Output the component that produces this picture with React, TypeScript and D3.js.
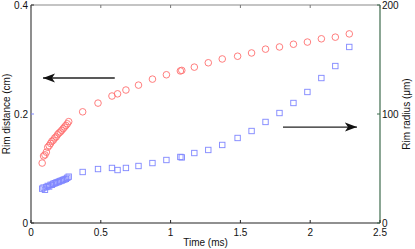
import React, { useEffect, useRef } from 'react';
import * as d3 from 'd3';

// time (ms) of each frame
const times = [
  0.08, 0.09, 0.1, 0.11, 0.12, 0.13, 0.14, 0.15, 0.16, 0.17, 0.18, 0.19, 0.2, 0.21, 0.22, 0.23, 0.24, 0.25, 0.26,
  0.27, 0.37, 0.48, 0.58, 0.62, 0.68, 0.77, 0.87, 0.97, 1.07, 1.08, 1.17, 1.27, 1.37, 1.48, 1.58, 1.68, 1.78, 1.88,
  1.98, 2.08, 2.18, 2.28,
];

// rim distance (cm), left axis
const rimDistance = [
  0.11, 0.123, 0.125, 0.13, 0.139, 0.142, 0.146, 0.15, 0.152, 0.156, 0.158, 0.162, 0.165, 0.167, 0.17, 0.173, 0.176,
  0.179, 0.182, 0.186, 0.204, 0.22, 0.233, 0.237, 0.244, 0.253, 0.264, 0.272, 0.279, 0.28, 0.286, 0.294, 0.301, 0.306,
  0.312, 0.319, 0.323, 0.328, 0.332, 0.338, 0.341, 0.347,
];

// rim radius (um), right axis
const rimRadius = [
  31.5, 32.5, 30.5, 33, 34, 33.5, 35, 35, 36, 36.5, 37, 37.5, 38, 38.5, 39, 39.5, 40, 40.5, 41.5, 42.5, 46.8, 49.5, 50.5,
  48.6, 50.5, 52.3, 55, 57.8, 60.6, 60.2, 64.2, 67, 71.6, 78, 84.4, 92.7, 100.9, 110.1, 120.2, 133, 144, 161.5,
];

const xTicks = [0, 0.5, 1, 1.5, 2, 2.5];
const leftTicks = [0, 0.2, 0.4];
const rightTicks = [0, 100, 200];

const App = () => {
  const ref = useRef<SVGSVGElement>(null);

  useEffect(() => {
    const svg = d3.select(ref.current);
    svg.selectAll('*').remove();

    const margin = { top: 5, right: 35, bottom: 26, left: 31 };
    const width = 415;
    const height = 249;
    const x0 = margin.left;
    const x1 = width - margin.right;
    const y0 = height - margin.bottom;
    const y1 = margin.top;

    const x = d3.scaleLinear().domain([0, 2.5]).range([x0, x1]);
    const yL = d3.scaleLinear().domain([0, 0.4]).range([y0, y1]);
    const yR = d3.scaleLinear().domain([0, 200]).range([y0, y1]);

    const font = 'Liberation Sans, Arial, sans-serif';

    // markers first
    svg
      .append('g')
      .selectAll('rect')
      .data(times)
      .enter()
      .append('rect')
      .attr('x', (d) => x(d) - 2.7)
      .attr('y', (d, i) => yR(rimRadius[i]) - 2.7)
      .attr('width', 5.4)
      .attr('height', 5.4)
      .attr('fill', 'none')
      .attr('stroke', '#7f86ff')
      .attr('stroke-width', 0.9);

    svg
      .append('g')
      .selectAll('circle')
      .data(times)
      .enter()
      .append('circle')
      .attr('cx', (d) => x(d))
      .attr('cy', (d, i) => yL(rimDistance[i]))
      .attr('r', 3.3)
      .attr('fill', 'none')
      .attr('stroke', '#ff6f6f')
      .attr('stroke-width', 0.9);

    // box lines
    svg.append('line').attr('x1', x0).attr('x2', x1).attr('y1', y1).attr('y2', y1).attr('stroke', '#8a8a8a').attr('stroke-width', 1.2);
    svg.append('line').attr('x1', x0).attr('x2', x1).attr('y1', y0).attr('y2', y0).attr('stroke', '#222').attr('stroke-width', 1.2);
    svg.append('line').attr('x1', x0).attr('x2', x0).attr('y1', y1).attr('y2', y0).attr('stroke', '#444').attr('stroke-width', 1.2);
    svg.append('line').attr('x1', x1).attr('x2', x1).attr('y1', y1).attr('y2', y0).attr('stroke', '#3d6b4c').attr('stroke-width', 1.2);

    // x ticks, bottom and top
    const xt = svg.append('g');
    xTicks.forEach((t) => {
      xt.append('line').attr('x1', x(t)).attr('x2', x(t)).attr('y1', y0).attr('y2', y0 - 3).attr('stroke', '#222');
      xt.append('line').attr('x1', x(t)).attr('x2', x(t)).attr('y1', y1).attr('y2', y1 + 3).attr('stroke', '#777');
      xt.append('text')
        .attr('x', x(t))
        .attr('y', y0 + 13)
        .attr('text-anchor', 'middle')
        .attr('font-family', font)
        .attr('font-size', 10)
        .attr('fill', '#111')
        .text(String(t));
    });

    leftTicks.forEach((t) => {
      xt.append('line').attr('x1', x0).attr('x2', x0 + 3).attr('y1', yL(t)).attr('y2', yL(t)).attr('stroke', t === 0.2 ? '#7f86ff' : '#333');
      xt.append('text')
        .attr('x', x0 - 3)
        .attr('y', yL(t) + 3.5)
        .attr('text-anchor', 'end')
        .attr('font-family', font)
        .attr('font-size', 10)
        .attr('fill', '#111')
        .text(String(t));
    });

    rightTicks.forEach((t) => {
      xt.append('line').attr('x1', x1).attr('x2', x1 - 3).attr('y1', yR(t)).attr('y2', yR(t)).attr('stroke', '#3d6b4c');
      xt.append('text')
        .attr('x', x1 + 2)
        .attr('y', yR(t) + 3.5)
        .attr('text-anchor', 'start')
        .attr('font-family', font)
        .attr('font-size', 10)
        .attr('fill', '#111')
        .text(String(t));
    });

    // axis titles
    svg
      .append('text')
      .attr('transform', `translate(10, ${(y0 + y1) / 2}) rotate(-90)`)
      .attr('text-anchor', 'middle')
      .attr('font-family', font)
      .attr('font-size', 10)
      .attr('fill', '#111')
      .text('Rim distance (cm)');

    svg
      .append('text')
      .attr('transform', `translate(410, ${(y0 + y1) / 2}) rotate(-90)`)
      .attr('text-anchor', 'middle')
      .attr('font-family', font)
      .attr('font-size', 10)
      .attr('fill', '#111')
      .text('Rim radius (\u03bcm)');

    svg
      .append('text')
      .attr('x', (x0 + x1) / 2)
      .attr('y', y0 + 23)
      .attr('text-anchor', 'middle')
      .attr('font-family', font)
      .attr('font-size', 10)
      .attr('fill', '#111')
      .text('Time (ms)');

    // arrows pointing to the axis each series belongs to
    const defs = svg.append('defs');
    defs
      .append('marker')
      .attr('id', 'head')
      .attr('viewBox', '0 0 12 10')
      .attr('refX', 12)
      .attr('refY', 5)
      .attr('markerWidth', 12)
      .attr('markerHeight', 10)
      .attr('markerUnits', 'userSpaceOnUse')
      .attr('orient', 'auto')
      .append('path')
      .attr('d', 'M0,0.5 L12,5 L0,9.5 L3,5 Z')
      .attr('fill', '#111');

    svg
      .append('line')
      .attr('x1', x(0.6))
      .attr('x2', x(0.086))
      .attr('y1', yL(0.266))
      .attr('y2', yL(0.266))
      .attr('stroke', '#222')
      .attr('stroke-width', 1.4)
      .attr('marker-end', 'url(#head)');

    svg
      .append('line')
      .attr('x1', x(1.805))
      .attr('x2', x(2.335))
      .attr('y1', yR(88))
      .attr('y2', yR(88))
      .attr('stroke', '#222')
      .attr('stroke-width', 1.4)
      .attr('marker-end', 'url(#head)');
  }, []);

  return (
    <div>
      <svg ref={ref} width={415} height={249} style={{ position: 'absolute', left: 0, top: 0, background: '#fff' }} />
    </div>
  );
};

export default App;
